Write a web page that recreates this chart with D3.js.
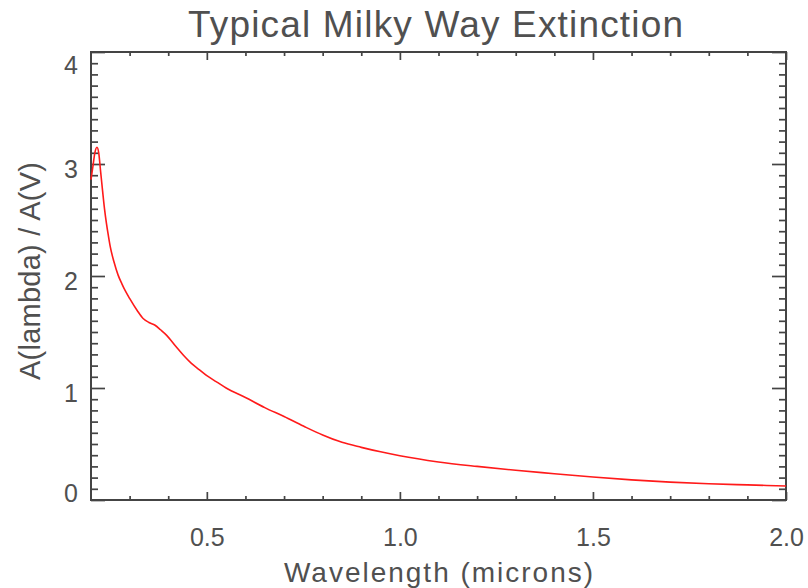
<!DOCTYPE html>
<html>
<head>
<meta charset="utf-8">
<script src="https://cdn.jsdelivr.net/npm/d3@7"></script>
<style>
  html, body { margin: 0; padding: 0; background: #fff; }
  svg { display: block; }
  text { font-family: "Liberation Sans", Arial, sans-serif; fill: #505050; }
</style>
</head>
<body>
<svg id="chart" width="808" height="588"></svg>
<script>
// Average Milky Way extinction curve, A(lambda)/A(V), against wavelength in microns
const wavelength = [
  0.200, 0.205, 0.210, 0.2155, 0.220, 0.225, 0.230, 0.235, 0.240, 0.245,
  0.250, 0.260, 0.270, 0.280, 0.290, 0.300, 0.320, 0.335, 0.350, 0.366,
  0.380, 0.396, 0.420, 0.440, 0.460, 0.480, 0.500, 0.525, 0.550, 0.600,
  0.650, 0.700, 0.750, 0.800, 0.850, 0.900, 0.950, 1.000, 1.100, 1.200,
  1.300, 1.400, 1.500, 1.600, 1.700, 1.800, 1.900, 2.000
];
const extinction = [
  2.86, 2.98, 3.10, 3.15, 3.10, 2.93, 2.76, 2.60, 2.47, 2.36,
  2.26, 2.12, 2.01, 1.93, 1.86, 1.80, 1.69, 1.62, 1.585, 1.56,
  1.52, 1.47, 1.37, 1.29, 1.22, 1.165, 1.11, 1.055, 1.00, 0.915,
  0.825, 0.745, 0.66, 0.58, 0.515, 0.47, 0.43, 0.395, 0.34, 0.30,
  0.265, 0.235, 0.205, 0.18, 0.16, 0.145, 0.135, 0.125
];
const xTickValues = [0.5, 1.0, 1.5, 2.0];
const xTickLabels = ["0.5", "1.0", "1.5", "2.0"];
const yTickValues = [0, 1, 2, 3, 4];
const yTickLabels = ["0", "1", "2", "3", "4"];
const xMinorValues = d3.range(3, 20).map(i => i / 10).filter(v => Math.round(v * 10) % 5 !== 0);
const yMinorValues = d3.range(1, 40).map(i => i / 10).filter(v => Math.round(v * 10) % 10 !== 0);

const chartTitle = "Typical Milky Way Extinction";
const xTitle = "Wavelength (microns)";
const yTitle = "A(lambda) / A(V)";

const W = 808, H = 588;
const plot = { left: 91, right: 786, top: 52, bottom: 500 };

const svg = d3.select("#chart");
svg.append("rect").attr("width", W).attr("height", H).attr("fill", "#fff");

const x = d3.scaleLinear().domain([0.2, 2.0]).range([plot.left, plot.right]);
const y = d3.scaleLinear().domain([0, 4]).range([plot.bottom, plot.top]);

const axisColor = "#444";
function styleAxis(g) {
  g.select(".domain").remove();
  g.selectAll(".tick line").attr("stroke", axisColor).attr("stroke-width", 1.7);
  g.selectAll(".tick text")
    .attr("fill", "#505050")
    .style("font-family", "'Liberation Sans', Arial, sans-serif")
    .style("font-size", "25px");
}

// inward-pointing ticks on all four sides
const xMajLen = 8, xMinLen = 4, yMajLen = 14, yMinLen = 7;

svg.append("g").attr("transform", `translate(0,${plot.bottom})`)
  .call(d3.axisBottom(x).tickValues(xTickValues)
    .tickFormat((d, i) => xTickLabels[i])
    .tickSizeInner(-xMajLen).tickSizeOuter(0).tickPadding(28))
  .call(styleAxis)
  .call(g => g.selectAll(".tick text").attr("dy", "0.71em"));

svg.append("g").attr("transform", `translate(0,${plot.bottom})`)
  .call(d3.axisBottom(x).tickValues(xMinorValues).tickFormat("")
    .tickSizeInner(-xMinLen).tickSizeOuter(0))
  .call(styleAxis);

svg.append("g").attr("transform", `translate(0,${plot.top})`)
  .call(d3.axisTop(x).tickValues(xTickValues).tickFormat("")
    .tickSizeInner(-xMajLen).tickSizeOuter(0))
  .call(styleAxis);

svg.append("g").attr("transform", `translate(0,${plot.top})`)
  .call(d3.axisTop(x).tickValues(xMinorValues).tickFormat("")
    .tickSizeInner(-xMinLen).tickSizeOuter(0))
  .call(styleAxis);

svg.append("g").attr("transform", `translate(${plot.left},0)`)
  .call(d3.axisLeft(y).tickValues(yTickValues)
    .tickFormat((d, i) => yTickLabels[i])
    .tickSizeInner(-yMajLen).tickSizeOuter(0).tickPadding(13))
  .call(styleAxis)
  .call(g => g.selectAll(".tick text")
    .attr("dy", "0.35em")
    .attr("y", d => {
      // end labels are kept inside the vertical extent of the frame
      const pos = Math.max(plot.top + 13, Math.min(plot.bottom - 7, y(d) + 5));
      return pos - y(d);
    }));

svg.append("g").attr("transform", `translate(${plot.left},0)`)
  .call(d3.axisLeft(y).tickValues(yMinorValues).tickFormat("")
    .tickSizeInner(-yMinLen).tickSizeOuter(0))
  .call(styleAxis);

svg.append("g").attr("transform", `translate(${plot.right},0)`)
  .call(d3.axisRight(y).tickValues(yTickValues).tickFormat("")
    .tickSizeInner(-yMajLen).tickSizeOuter(0))
  .call(styleAxis);

svg.append("g").attr("transform", `translate(${plot.right},0)`)
  .call(d3.axisRight(y).tickValues(yMinorValues).tickFormat("")
    .tickSizeInner(-yMinLen).tickSizeOuter(0))
  .call(styleAxis);

// frame
svg.append("rect")
  .attr("x", plot.left).attr("y", plot.top)
  .attr("width", plot.right - plot.left).attr("height", plot.bottom - plot.top)
  .attr("fill", "none").attr("stroke", axisColor).attr("stroke-width", 2);

// extinction curve
const pts = wavelength.map((w, i) => [w, extinction[i]]);
const line = d3.line().x(d => x(d[0])).y(d => y(d[1])).curve(d3.curveMonotoneX);
svg.append("path")
  .datum(pts)
  .attr("d", line)
  .attr("fill", "none")
  .attr("stroke", "#ff1a1a")
  .attr("stroke-width", 1.6);

// titles
svg.append("text")
  .attr("x", (plot.left + plot.right) / 2 - 3).attr("y", 37)
  .attr("text-anchor", "middle")
  .attr("textLength", 495).attr("lengthAdjust", "spacing")
  .style("font-size", "37px")
  .text(chartTitle);

svg.append("text")
  .attr("x", (plot.left + plot.right) / 2).attr("y", 582)
  .attr("text-anchor", "middle")
  .attr("textLength", 309).attr("lengthAdjust", "spacing")
  .style("font-size", "28px")
  .text(xTitle);

svg.append("text")
  .attr("transform", `translate(40,${(plot.top + plot.bottom) / 2 - 5}) rotate(-90)`)
  .attr("text-anchor", "middle")
  .attr("textLength", 218).attr("lengthAdjust", "spacing")
  .style("font-size", "29px")
  .text(yTitle);
</script>
</body>
</html>
